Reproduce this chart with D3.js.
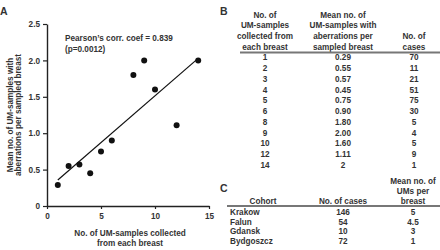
<!DOCTYPE html>
<html>
<head>
<meta charset="utf-8">
<script src="https://cdn.jsdelivr.net/npm/d3@7"></script>
<style>
  body { margin: 0; background: #fff; }
  svg text { font-family: "Liberation Sans", Arial, sans-serif; font-weight: bold; fill: #333; }
</style>
</head>
<body>
<svg id="fig" width="440" height="250"></svg>
<script>
// samples collected per breast, mean no. with aberrations, no. of cases
const samples = [1, 2, 3, 4, 5, 6, 8, 9, 10, 12, 14];
const meanAberr = [0.29, 0.55, 0.57, 0.45, 0.75, 0.90, 1.80, 2.00, 1.60, 1.11, 2];
const meanLabels = ["0.29", "0.55", "0.57", "0.45", "0.75", "0.90", "1.80", "2.00", "1.60", "1.11", "2"];
const nCases = [70, 11, 21, 51, 75, 30, 5, 4, 5, 9, 1];

const cohorts = ["Krakow", "Falun", "Gdansk", "Bydgoszcz"];
const cohortCases = [146, 54, 10, 72];
const cohortMeanUM = ["5", "4.5", "3", "1"];

const xTicks = [0, 5, 10, 15];
const yTicks = [0, 0.5, 1.0, 1.5, 2.0, 2.5];

const svg = d3.select("#fig");
const fs = 8.2;

// ---- panel A: scatter ----
const x = d3.scaleLinear().domain([0, 15]).range([47, 209]);
const y = d3.scaleLinear().domain([0, 2.5]).range([206, 24]);

svg.append("text").attr("x", 0).attr("y", 15).style("font-size", "10.5px").text("A");

const gx = svg.append("g").attr("transform", `translate(0,${y(0)})`)
  .call(d3.axisBottom(x).tickValues(xTicks).tickSize(3).tickSizeOuter(0).tickPadding(4));
const gy = svg.append("g").attr("transform", `translate(${x(0)},0)`)
  .call(d3.axisLeft(y).tickValues(yTicks).tickSize(4).tickSizeOuter(0).tickPadding(3)
    .tickFormat(d => d === 0 ? "0" : d3.format(".1f")(d)));
[gx, gy].forEach(g => {
  g.select(".domain").attr("stroke", "#222").attr("stroke-width", 1.4);
  g.selectAll(".tick line").attr("stroke", "#222").attr("stroke-width", 1.2);
  g.selectAll(".tick text").style("font-size", fs + "px")
    .style("font-family", "'Liberation Sans', Arial, sans-serif").attr("fill", "#333");
});

// least-squares fit line
const mx = d3.mean(samples), my = d3.mean(meanAberr);
const slope = d3.sum(samples, (s, i) => (s - mx) * (meanAberr[i] - my)) /
  d3.sum(samples, s => (s - mx) * (s - mx));
const icpt = my - slope * mx;
const x0 = d3.min(samples), x1 = d3.max(samples);
svg.append("line")
  .attr("x1", x(x0)).attr("y1", y(icpt + slope * x0))
  .attr("x2", x(x1)).attr("y2", y(icpt + slope * x1))
  .attr("stroke", "#111").attr("stroke-width", 1.2);

svg.append("g").selectAll("circle").data(samples).join("circle")
  .attr("cx", d => x(d)).attr("cy", (d, i) => y(meanAberr[i]))
  .attr("r", 3).attr("fill", "#111");

svg.append("text").attr("x", 65).attr("y", 40.5).style("font-size", fs + "px")
  .text("Pearson\u2019s corr. coef = 0.839");
svg.append("text").attr("x", 65).attr("y", 51.5).style("font-size", fs + "px")
  .text("(p=0.0012)");

const yTitle = svg.append("text").attr("transform", "translate(0,115) rotate(-90)")
  .attr("text-anchor", "middle").style("font-size", fs + "px");
yTitle.append("tspan").attr("x", 0).attr("y", 12.5).text("Mean no. of UM-samples with");
yTitle.append("tspan").attr("x", 0).attr("y", 20.5).text("aberrations per sampled breast");

const xTitle = svg.append("text").attr("text-anchor", "middle").style("font-size", fs + "px");
xTitle.append("tspan").attr("x", 130).attr("y", 236).text("No. of UM-samples collected");
xTitle.append("tspan").attr("x", 130).attr("y", 245.5).text("from each breast");

// ---- panel B: table ----
svg.append("text").attr("x", 220).attr("y", 15).style("font-size", "10.5px").text("B");
const colB = [265, 343, 414];
const headB = [
  ["No. of", "UM-samples", "collected from", "each breast"],
  ["Mean no. of", "UM-samples with", "aberrations per", "sampled breast"],
  ["No. of", "cases"]
];
headB.forEach((lines, c) => {
  lines.forEach((t, k) => {
    svg.append("text").attr("x", colB[c]).attr("text-anchor", "middle")
      .attr("y", 49.8 - (lines.length - 1 - k) * 10.7)
      .style("font-size", fs + "px").text(t);
  });
});
svg.append("line").attr("x1", 240).attr("x2", 440).attr("y1", 52.5).attr("y2", 52.5)
  .attr("stroke", "#777").attr("stroke-width", 2);

const rowB = d3.scaleLinear().domain([0, samples.length - 1]).range([60.4, 168]);
const gB = svg.append("g").style("font-size", fs + "px");
samples.forEach((s, i) => {
  [String(s), meanLabels[i], String(nCases[i])].forEach((t, c) => {
    gB.append("text").attr("x", colB[c]).attr("y", rowB(i))
      .attr("text-anchor", "middle").text(t);
  });
});

// ---- panel C: table ----
svg.append("text").attr("x", 220).attr("y", 191.5).style("font-size", "10.5px").text("C");
const colC = [263, 343, 413];
const headC = [["Cohort"], ["No. of cases"], ["Mean no. of", "UMs per", "breast"]];
headC.forEach((lines, c) => {
  lines.forEach((t, k) => {
    svg.append("text").attr("x", colC[c]).attr("text-anchor", "middle")
      .attr("y", 203.6 - (lines.length - 1 - k) * 9.6)
      .style("font-size", fs + "px").text(t);
  });
});
svg.append("line").attr("x1", 227).attr("x2", 440).attr("y1", 206).attr("y2", 206)
  .attr("stroke", "#777").attr("stroke-width", 2);

const rowC = d3.scaleLinear().domain([0, cohorts.length - 1]).range([215, 243.8]);
const gC = svg.append("g").style("font-size", fs + "px");
cohorts.forEach((name, i) => {
  gC.append("text").attr("x", 230).attr("y", rowC(i)).text(name);
  gC.append("text").attr("x", colC[1]).attr("y", rowC(i)).attr("text-anchor", "middle").text(cohortCases[i]);
  gC.append("text").attr("x", colC[2]).attr("y", rowC(i)).attr("text-anchor", "middle").text(cohortMeanUM[i]);
});
</script>
</body>
</html>
